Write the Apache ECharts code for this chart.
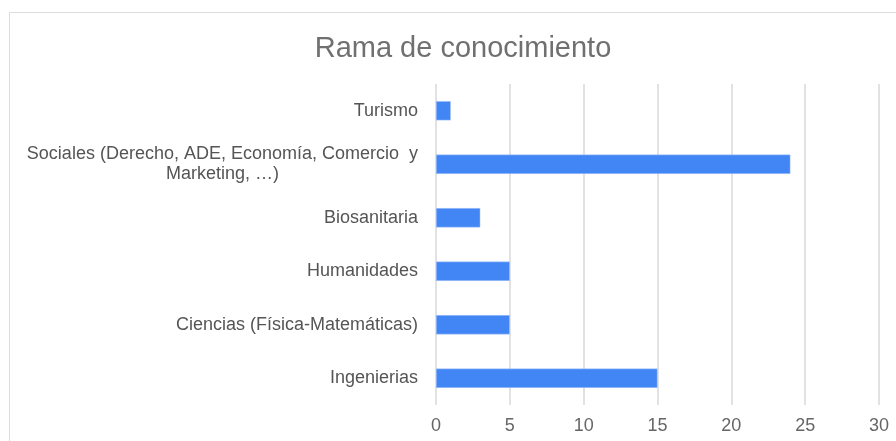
<!DOCTYPE html>
<html>
<head>
<meta charset="utf-8">
<script src="https://cdn.jsdelivr.net/npm/echarts@6/dist/echarts.min.js"></script>
<style>
  html, body { margin: 0; padding: 0; background: #fff; }
  #chart { width: 896px; height: 441px; }
</style>
</head>
<body>
<div id="chart"></div>
<script>
const categories = [
  "Turismo",
  "Sociales (Derecho, ADE, Economía, Comercio  y\nMarketing, …)",
  "Biosanitaria",
  "Humanidades",
  "Ciencias (Física-Matemáticas)",
  "Ingenierias",
];
const values = [1, 24, 3, 5, 5, 15];
const xTicks = { min: 0, max: 30, interval: 5 };

const chart = echarts.init(document.getElementById("chart"));

chart.setOption({
  animation: false,
  textStyle: { fontFamily: "Liberation Sans, Arial, sans-serif" },
  title: {
    text: "Rama de conocimiento",
    left: 458,
    top: 29,
    textAlign: "center",
    textStyle: {
      fontFamily: "Liberation Sans, Arial, sans-serif",
      fontSize: 29,
      fontWeight: "normal",
      color: "#707070",
    },
  },
  graphic: [
    {
      type: "rect",
      shape: { x: 9.5, y: 12.5, width: 1000, height: 1000 },
      style: { fill: "none", stroke: "#dcdcdc", lineWidth: 1 },
      silent: true,
    },
  ],
  grid: { left: 436, right: 17, top: 84, bottom: 36 },
  xAxis: {
    type: "value",
    min: xTicks.min,
    max: xTicks.max,
    interval: xTicks.interval,
    axisLine: { show: false },
    axisTick: { show: false },
    axisLabel: { color: "#666", fontSize: 18, margin: 12 },
    splitLine: { lineStyle: { color: "#d9d9d9", width: 1.5 } },
  },
  yAxis: {
    type: "category",
    inverse: true,
    data: categories,
    axisLine: { show: false },
    axisTick: { show: false },
    axisLabel: {
      color: "#555",
      fontSize: 18,
      margin: 18,
      formatter: (v) => v.split("\n").map((l) => "{c|" + l + "}").join("\n"),
      rich: {
        c: { align: "center", color: "#555", fontSize: 18, lineHeight: 20 },
      },
    },
  },
  series: [
    {
      type: "bar",
      data: values,
      barWidth: "36%",
      itemStyle: { color: "#4285f4", borderColor: "#b4cdf9", borderWidth: 0.5 },
    },
  ],
});
</script>
</body>
</html>
